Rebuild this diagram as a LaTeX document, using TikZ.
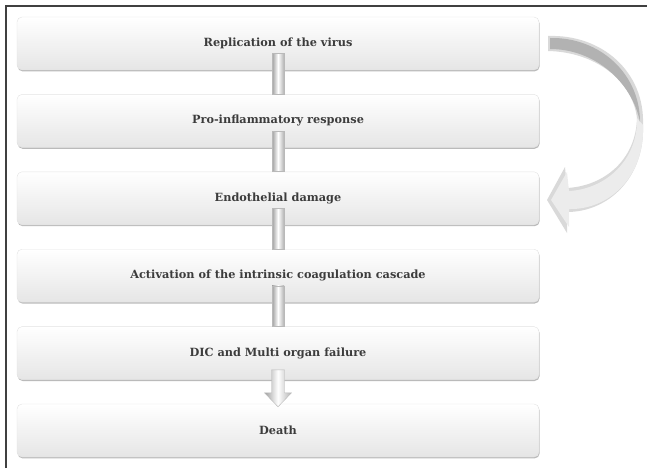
\documentclass[tikz,border=0pt]{standalone}
\usepackage{fontspec}
\setmainfont{DejaVu Serif}
\usepackage{tikz}
\usetikzlibrary{positioning,shadows,calc}
\definecolor{textGray}{HTML}{3C3C3C}

\begin{document}
\begin{tikzpicture}
  [x=1pt, y=1pt,
   flowBox/.style={rounded corners=5pt, minimum width=522pt, minimum height=53pt,
     inner sep=0pt, top color=white, bottom color=gray!20, draw=gray!22,
     drop shadow={shadow xshift=0.6pt, shadow yshift=-1.4pt, opacity=0.6, fill=gray!90},
     font=\fontsize{11.3}{13}\selectfont\bfseries, text=textGray},
   linkBar/.style={left color=gray!75, right color=gray!60, middle color=white,
     draw=gray!55, line width=0.4pt}]

  \useasboundingbox (0,0) rectangle (647,-468);

  % frame
  \draw [line width=1.3pt, color=black!75] (6,-468) -- (6,-6) -- (647,-6);

  \node [flowBox] (replVirus) at (278,-43.5) {Replication of the virus};
  \node [flowBox, below=24pt of replVirus] (proInfl) {Pro-inflammatory response};
  \node [flowBox, below=24pt of proInfl] (endoDamage) {Endothelial damage};
  \node [flowBox, below=24pt of endoDamage] (coagCascade) {Activation of the intrinsic coagulation cascade};
  \node [flowBox, below=24pt of coagCascade] (dicFailure) {DIC and Multi organ failure};
  \node [flowBox, below=24pt of dicFailure] (death) {Death};

  % bars between the boxes
  \foreach \from/\to in {replVirus/proInfl, proInfl/endoDamage,
                         endoDamage/coagCascade, coagCascade/dicFailure}
    \draw [linkBar] ($ (\from.south)+(-6,16.5) $) rectangle ($ (\to.north)+(6,0) $);

  % last block arrow
  \path (dicFailure.south) ++ (0,10) coordinate (arrTop);
  \draw [linkBar] (arrTop) ++ (-6.5,0) --++ (0,-23) --++ (-7,0) --++ (13.5,-14)
    --++ (13.5,14) --++ (-7,0) --++ (0,23) -- cycle;

  % curved arrow back to the endothelial damage
  \coordinate (tailTop) at (548,-36);
  \coordinate (tailBot) at (548,-51);
  \coordinate (outerR) at (643,-125);
  \coordinate (innerR) at (637,-118);
  \fill [color=gray!30] (tailTop) .. controls (602,-34) and (645,-72) .. (outerR)
    .. controls (645,-178) and (608,-212) .. (567,-212) -- (567,-233) -- (547,-200)
    -- (565,-167) -- (567,-188) .. controls (604,-186) and (636,-160) .. (innerR)
    .. controls (632,-80) and (595,-52) .. (tailBot) -- cycle;
  \fill [color=gray!15] (outerR)
    .. controls (645,-178) and (608,-210) .. (569,-209) -- (569,-227) -- (551,-200)
    -- (567,-172) -- (569,-191) .. controls (606,-189) and (638,-160) .. (innerR) -- cycle;
  \fill [color=gray!60] (tailTop) ++ (2,-2) .. controls (600,-37) and (640,-74) .. (640,-122)
    .. controls (632,-82) and (595,-49) .. (550,-49) -- cycle;

\end{tikzpicture}
\end{document}
